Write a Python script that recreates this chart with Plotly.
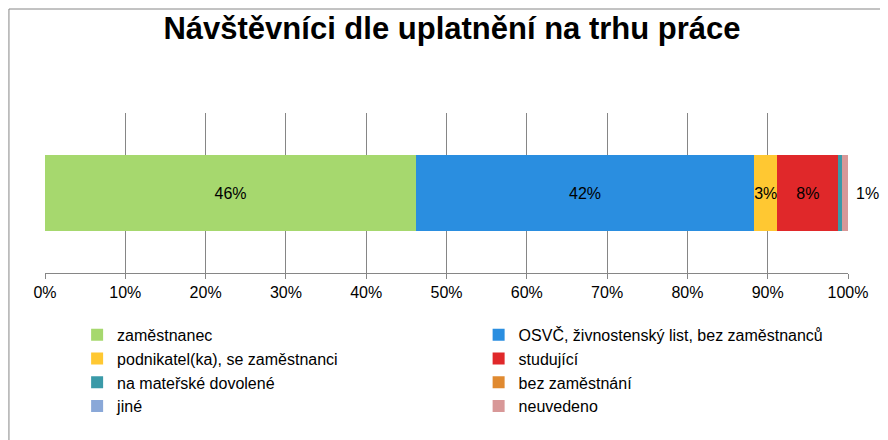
import plotly.graph_objects as go

categories = ['zaměstnanec', 'OSVČ, živnostenský list, bez zaměstnanců',
              'podnikatel(ka), se zaměstnanci', 'studující',
              'na mateřské dovolené', 'bez zaměstnání', 'jiné', 'neuvedeno']
values = [46.2, 42.1, 2.9, 7.6, 0.4, 0.0, 0.0, 0.8]
labels = ['46%', '42%', '3%', '8%', '', '', '', '']
colors = ['#a6d86e', '#2a8ee0', '#ffc832', '#e0282a', '#3a9aa8', '#e08a30', '#8aa8d8', '#d89898']

fig = go.Figure()
for name, v, lab, c in zip(categories, values, labels, colors):
    fig.add_trace(go.Bar(
        y=['x'], x=[v], name=name, orientation='h',
        marker=dict(color=c, line_width=0),
        text=[lab], textposition='inside', insidetextanchor='middle',
        textangle=0, constraintext='none',
        textfont=dict(color='black', size=16),
    ))

# label for last small segment, shown right of the bar
fig.add_annotation(x=100, y='x', text='1%', showarrow=False, xanchor='left',
                   xshift=6, font=dict(size=16, color='black'))

fig.update_layout(
    width=888, height=440,
    barmode='stack', bargap=0.52,
    title=dict(text='<b>Návštěvníci dle uplatnění na trhu práce</b>', x=0.5, y=0.955,
               xanchor='center', yanchor='middle', font=dict(size=31, color='black')),
    font=dict(family='Liberation Sans, Arial', size=16, color='black'),
    margin=dict(l=37, r=48, t=105, b=175, autoexpand=False),
    plot_bgcolor='white', paper_bgcolor='white',
    xaxis=dict(range=[0, 100], dtick=10, ticksuffix='%', showgrid=True,
               gridcolor='#868686', gridwidth=1, zeroline=False, automargin=False,
               showline=True, linecolor='#868686', ticks='outside',
               ticklen=5, tickcolor='#868686'),
    yaxis=dict(showticklabels=False, showgrid=False, automargin=False),
    legend=dict(orientation='h', x=0.04, y=-0.28, yanchor='top',
                entrywidth=0.5, entrywidthmode='fraction',
                font=dict(size=16), traceorder='normal', itemwidth=30),
    shapes=[dict(type='rect', xref='paper', yref='paper', x0=-0.0449, x1=1.0585,
                 y0=-1.088, y1=1.65, line=dict(color='#868686', width=1))],
)
fig.write_html('out.html')
